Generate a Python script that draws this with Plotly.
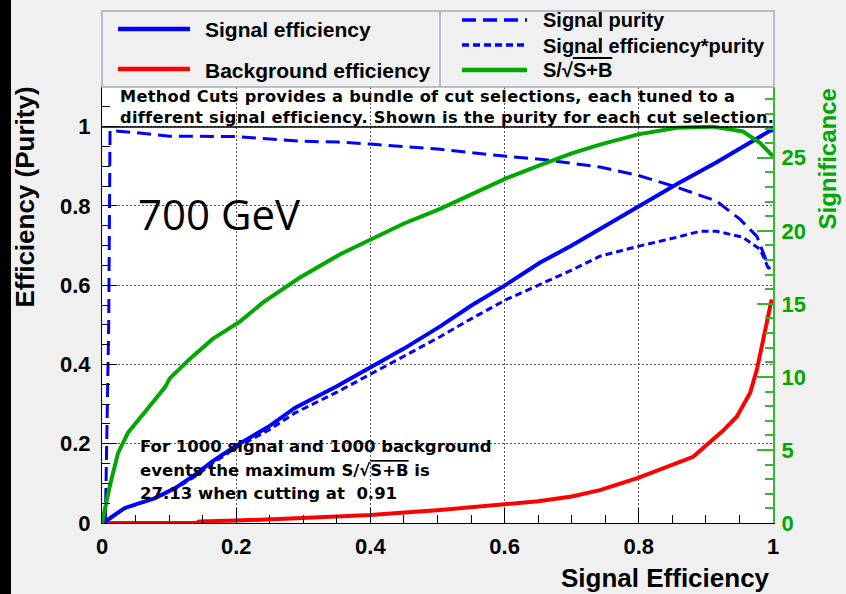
import plotly.graph_objects as go

# ---- Cut-scan curves, x = signal efficiency ----
eff_x = [0, 0.012, 0.034, 0.079, 0.109, 0.139, 0.164, 0.2, 0.25, 0.288, 0.35, 0.404, 0.45,
         0.504, 0.55, 0.603, 0.653, 0.7, 0.742, 0.799, 0.857, 0.916, 0.966, 0.995, 1.0]
eff_y = [0, 0.012, 0.038, 0.063, 0.088, 0.122, 0.155, 0.195, 0.245, 0.291, 0.345, 0.395, 0.44,
         0.496, 0.548, 0.602, 0.657, 0.7, 0.741, 0.799, 0.855, 0.91, 0.961, 0.989, 0.992]

pur_x = [0.005, 0.010, 0.012, 0.02, 0.05, 0.101, 0.2, 0.3, 0.352, 0.4, 0.504, 0.603, 0.653,
         0.7, 0.742, 0.799, 0.857, 0.916, 0.951, 0.976, 0.995]
pur_y = [0.0, 0.5, 0.991, 0.989, 0.985, 0.976, 0.975, 0.963, 0.961, 0.956, 0.943, 0.925, 0.918,
         0.908, 0.898, 0.877, 0.847, 0.812, 0.766, 0.723, 0.640]

effpur_x = [0, 0.034, 0.079, 0.109, 0.139, 0.164, 0.2, 0.25, 0.288, 0.35, 0.404, 0.45, 0.504,
            0.55, 0.603, 0.653, 0.7, 0.742, 0.799, 0.857, 0.891, 0.916, 0.955, 0.981, 0.995]
effpur_y = [0, 0.037, 0.062, 0.086, 0.118, 0.150, 0.19, 0.236, 0.278, 0.33, 0.379, 0.42, 0.470,
            0.515, 0.564, 0.602, 0.638, 0.673, 0.698, 0.721, 0.736, 0.736, 0.721, 0.690, 0.635]

bkg_x = [0, 0.14, 0.145, 0.2, 0.29, 0.4, 0.504, 0.6, 0.65, 0.7, 0.742, 0.799, 0.851, 0.881,
         0.901, 0.925, 0.946, 0.966, 0.976, 0.985, 0.993, 0.998]
bkg_y = [0, 0, 0.004, 0.006, 0.012, 0.02, 0.033, 0.046, 0.055, 0.067, 0.083, 0.114, 0.147, 0.167,
         0.197, 0.232, 0.268, 0.329, 0.387, 0.463, 0.521, 0.564]

sig_x = [0, 0.012, 0.024, 0.039, 0.064, 0.094, 0.101, 0.13, 0.165, 0.206, 0.24, 0.28, 0.295,
         0.355, 0.404, 0.45, 0.504, 0.55, 0.603, 0.653, 0.7, 0.742, 0.799, 0.857, 0.91, 0.955,
         0.981, 1.0]
sig_y = [0, 2.6, 4.8, 6.2, 7.6, 9.3, 9.9, 11.2, 12.6, 13.8, 15.1, 16.3, 16.8, 18.4, 19.5, 20.5,
         21.5, 22.5, 23.6, 24.5, 25.3, 25.9, 26.6, 27.05, 27.13, 26.8, 26.0, 25.1]

max_sig = 27.13
max_cut = 0.91

BLUE = "#0000ff"
RED = "#ff0000"
GREEN = "#00a800"
GREEN_AXIS = "#33b833"
BG = "#f0f0f0"
BOLD = "Liberation Sans"
WIDE = "DejaVu Sans"

# plot frame in window pixels
W_PX, H_PX = 846, 594
L, R, T, B = 102, 773, 87, 523


def px(xp):
    return (xp - L) / (R - L)


def py(yp):
    return (B - yp) / (B - T)


fig = go.Figure()
fig.add_trace(go.Scatter(x=bkg_x, y=bkg_y, mode="lines", line=dict(color=RED, width=4),
                         showlegend=False))
fig.add_trace(go.Scatter(x=eff_x, y=eff_y, mode="lines", line=dict(color=BLUE, width=4),
                         showlegend=False))
fig.add_trace(go.Scatter(x=effpur_x, y=effpur_y, mode="lines",
                         line=dict(color=BLUE, width=3, dash="7px,4px"), showlegend=False))
fig.add_trace(go.Scatter(x=pur_x, y=pur_y, mode="lines",
                         line=dict(color=BLUE, width=3, dash="14px,7px"), showlegend=False))
fig.add_trace(go.Scatter(x=sig_x, y=sig_y, mode="lines", yaxis="y2",
                         line=dict(color=GREEN, width=4), showlegend=False))

tickfont = dict(family=BOLD, size=22, color="black", weight="bold")
fig.update_layout(
    width=W_PX, height=H_PX,
    margin=dict(l=L, r=W_PX - R, t=T, b=H_PX - B),
    paper_bgcolor=BG, plot_bgcolor="white",
    showlegend=False,
    xaxis=dict(range=[0, 1], dtick=0.2, tick0=0, ticks="inside", ticklen=15, tickwidth=1,
               tickcolor="black", showline=True, linecolor="black", linewidth=1,
               showgrid=True, gridcolor="#555555", griddash="2px,2px", gridwidth=1,
               zeroline=False, tickfont=tickfont, ticklabelstandoff=4,
               minor=dict(dtick=0.05, ticks="inside", ticklen=8, tickcolor="black",
                          showgrid=False)),
    yaxis=dict(range=[0, 1.1], dtick=0.2, tick0=0, ticks="inside", ticklen=15, tickwidth=1,
               tickcolor="black", showline=True, linecolor="black", linewidth=1,
               showgrid=True, gridcolor="#555555", griddash="2px,2px", gridwidth=1,
               zeroline=False, tickfont=tickfont, ticklabelstandoff=6,
               minor=dict(dtick=0.05, ticks="inside", ticklen=8, tickcolor="black",
                          showgrid=False)),
    yaxis2=dict(range=[0, 1.1 * max_sig], overlaying="y", side="right", dtick=5, tick0=0,
                ticks="inside", ticklen=16, tickwidth=1.5, tickcolor=GREEN_AXIS,
                showline=True, linecolor=GREEN_AXIS, linewidth=2, showgrid=False,
                zeroline=False,
                tickfont=dict(family=BOLD, size=22, color=GREEN, weight="bold"),
                ticklabelstandoff=2,
                minor=dict(dtick=1, ticks="inside", ticklen=8, tickcolor=GREEN_AXIS)),
)

shapes = []
# dark strip along the left edge of the canvas
shapes.append(dict(type="rect", xref="paper", yref="paper", x0=px(0), x1=px(11),
                   y0=py(H_PX), y1=py(0), fillcolor="black", line=dict(width=0), layer="below"))
# legend frame and column divider
shapes.append(dict(type="rect", xref="paper", yref="paper", x0=px(102), x1=px(774),
                   y0=py(87), y1=py(11), fillcolor=BG, line=dict(color="#a4acba", width=1.5)))
shapes.append(dict(type="line", xref="paper", yref="paper", x0=px(440), x1=px(440),
                   y0=py(87), y1=py(11), line=dict(color="#a4acba", width=1.5)))
# bottom edge of the description box
shapes.append(dict(type="line", xref="paper", yref="paper", x0=px(102), x1=px(773),
                   y0=py(127), y1=py(127), line=dict(color="black", width=1.5)))

# legend samples
legend_rows = [
    (118, 190, 29, BLUE, 4.5, "solid"),
    (118, 190, 69, RED, 4.5, "solid"),
    (462, 527, 20, BLUE, 3.5, "14px,7px"),
    (462, 527, 45, BLUE, 3.5, "7px,4px"),
    (462, 527, 70, GREEN, 4.5, "solid"),
]
for x0, x1, yy, col, lw, dsh in legend_rows:
    shapes.append(dict(type="line", xref="paper", yref="paper", x0=px(x0), x1=px(x1),
                       y0=py(yy), y1=py(yy), line=dict(color=col, width=lw, dash=dsh)))
fig.update_layout(shapes=shapes)

SQRT_SB = "S/\u221a<span style='text-decoration:overline'>S+B</span>"


def text(xp, yp, s, size, family=BOLD, color="black", xanchor="left", angle=0, yanchor="middle"):
    fig.add_annotation(x=px(xp), y=py(yp), xref="paper", yref="paper", text=s,
                       showarrow=False, xanchor=xanchor, yanchor=yanchor, textangle=angle,
                       font=dict(family=family, size=size, color=color))


# legend labels
text(203, 30, "<b>Signal efficiency</b>", 21)
text(203, 70, "<b>Background efficiency</b>", 21)
text(541, 20, "<b>Signal purity</b>", 20)
text(541, 46, "<b>Signal efficiency*purity</b>", 20)
text(541, 70, "<b>" + SQRT_SB + "</b>", 20)

# description box (two tightly spaced lines)
SPACED = "<span style='letter-spacing:0.3px'><b>{}</b></span>"
text(118, 97, SPACED.format("Method Cuts provides a bundle of cut selections, each tuned to a"),
     16.2, WIDE)
text(118, 117.5,
     SPACED.format("different signal efficiency. Shown is the purity for each cut selection."),
     16.2, WIDE)

# summary of the optimum
text(138, 446, "<b>For 1000 signal and 1000 background</b>", 16.5, WIDE)
text(138, 470, "<b>events the maximum " + SQRT_SB + " is</b>", 16.5, WIDE)
text(138, 493, f"<b>{max_sig:.2f} when cutting at \u00a0{max_cut:.2f}</b>", 16.5, WIDE)

# mass point label
text(136, 213, "700 GeV", 42, "Open Sans")

# axis titles
text(25, 85, "<b>Efficiency (Purity)</b>", 26, angle=-90, xanchor="center", yanchor="top")
text(772, 578, "<b>Signal Efficiency</b>", 26, xanchor="right")
text(827, 87, "<b>Significance</b>", 24, color=GREEN, angle=-90, xanchor="center",
     yanchor="top")

fig.write_html("out.html")
